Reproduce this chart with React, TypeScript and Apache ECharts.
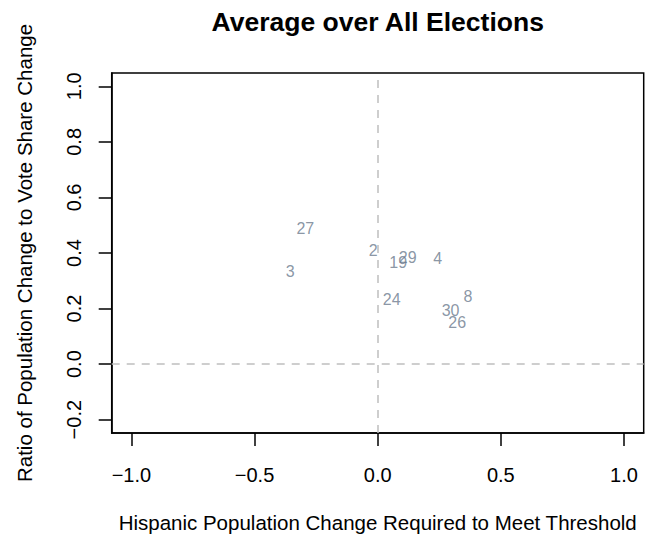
import React, { useEffect, useRef } from "react";
import * as echarts from "echarts";

const pointLabels = ["27", "2", "3", "19", "29", "4", "24", "8", "30", "26"];
const xValues = [-0.294, -0.018, -0.355, 0.083, 0.122, 0.244, 0.057, 0.366, 0.296, 0.323];
const yValues = [0.49, 0.41, 0.334, 0.365, 0.383, 0.38, 0.233, 0.245, 0.192, 0.149];
const xTicks = [-1, -0.5, 0, 0.5, 1];
const yTicks = [-0.2, 0, 0.2, 0.4, 0.6, 0.8, 1.0];

const titleText = "Average over All Elections";
const xName = "Hispanic Population Change Required to Meet Threshold";
const yName = "Ratio of Population Change to Vote Share Change";

const FONT = "'Liberation Sans', Arial, Helvetica, sans-serif";
const fmt = (v: number) => (v < 0 ? "\u2212" : "") + Math.abs(v).toFixed(1);

export default function App() {
  const ref = useRef<HTMLDivElement>(null);
  useEffect(() => {
    if (!ref.current) return;
    const chart = echarts.init(ref.current, undefined, { renderer: "svg" });
    const gridLeft = 111.7;
    const gridTop = 73;
    const gridRight = 15.3;
    const gridBottom = 105;
    const plotCx = gridLeft + (659 - gridLeft - gridRight) / 2;
    const plotCy = gridTop + (538 - gridTop - gridBottom) / 2;
    chart.setOption({
      animation: false,
      backgroundColor: "#ffffff",
      grid: {
        left: gridLeft,
        top: gridTop,
        right: gridRight,
        bottom: gridBottom,
        show: true,
        borderColor: "#000",
        borderWidth: 1.5,
        containLabel: false,
      },
      xAxis: {
        type: "value",
        min: -1.08,
        max: 1.08,
        splitLine: { show: false },
        axisLine: { show: true, onZero: false, lineStyle: { color: "#000", width: 1.5 } },
        axisTick: {
          show: true,
          length: 13,
          customValues: xTicks,
          lineStyle: { color: "#000", width: 1.5 },
        },
        axisLabel: {
          customValues: xTicks,
          formatter: fmt,
          margin: 32,
          color: "#000",
          fontFamily: FONT,
          fontSize: 20,
        },
      },
      yAxis: {
        type: "value",
        min: -0.248,
        max: 1.048,
        splitLine: { show: false },
        axisLine: { show: true, onZero: false, lineStyle: { color: "#000", width: 1.5 } },
        axisTick: {
          show: true,
          length: 13,
          customValues: yTicks,
          lineStyle: { color: "#000", width: 1.5 },
        },
        axisLabel: {
          customValues: yTicks,
          formatter: fmt,
          rotate: 90,
          margin: 28,
          color: "#000",
          fontFamily: FONT,
          fontSize: 20,
        },
      },
      graphic: [
        {
          type: "text",
          x: plotCx,
          y: 22,
          style: {
            text: titleText,
            textAlign: "center",
            textVerticalAlign: "middle",
            font: `bold 26.5px ${FONT}`,
            fill: "#000",
          },
        },
        {
          type: "text",
          x: plotCx,
          y: 522,
          style: {
            text: xName,
            textAlign: "center",
            textVerticalAlign: "middle",
            font: `20.5px ${FONT}`,
            fill: "#000",
          },
        },
        {
          type: "text",
          x: 24,
          y: plotCy,
          rotation: Math.PI / 2,
          style: {
            text: yName,
            textAlign: "center",
            textVerticalAlign: "middle",
            font: `20.5px ${FONT}`,
            fill: "#000",
          },
        },
      ],
      series: [
        {
          type: "scatter",
          symbolSize: 0,
          data: pointLabels.map((name, i) => ({ name, value: [xValues[i], yValues[i]] })),
          label: {
            show: true,
            position: "inside",
            formatter: (p: any) => p.name,
            color: "#6c7b8e",
            fontFamily: FONT,
            fontSize: 16,
          },
          markLine: {
            silent: true,
            symbol: ["none", "none"],
            label: { show: false },
            lineStyle: { color: "#bebebe", type: [8, 7], width: 1.5 },
            data: [{ xAxis: 0 }, { yAxis: 0 }],
          },
        },
      ],
    });
    return () => chart.dispose();
  }, []);
  return (
    <div
      ref={ref}
      style={{ position: "fixed", left: 0, top: 0, width: 659, height: 538 }}
    />
  );
}
